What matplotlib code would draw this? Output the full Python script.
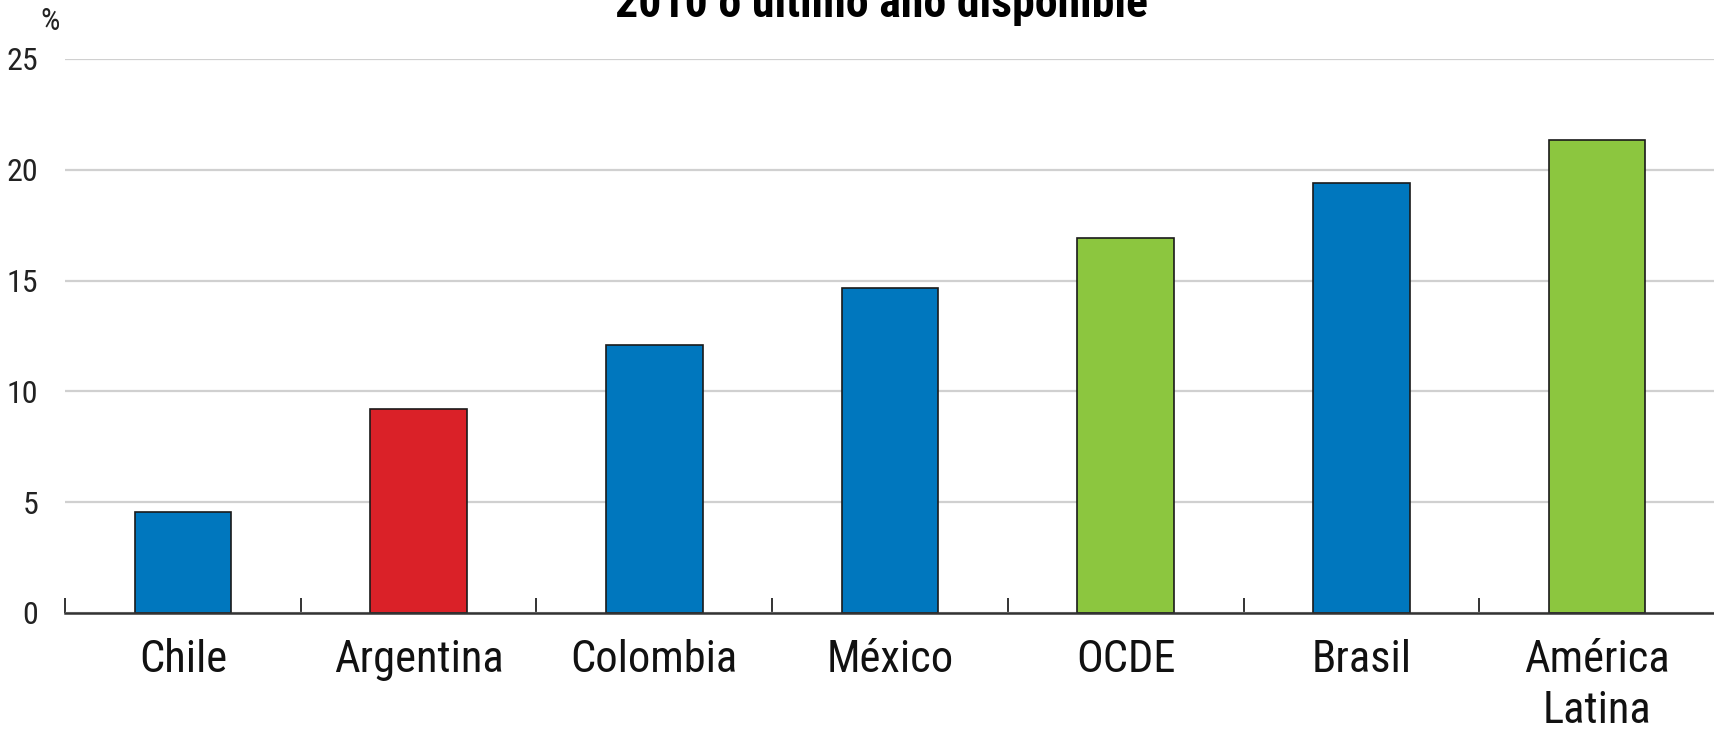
import matplotlib
matplotlib.use('Agg')
import matplotlib.pyplot as plt
import numpy as np

# condensed face to stand in for Arial Narrow
plt.rcParams['font.family'] = ['Roboto Condensed', 'DejaVu Sans']

# data
categories = ['Chile', 'Argentina', 'Colombia', 'México', 'OCDE', 'Brasil', 'América\nLatina']
values = [4.55, 9.2, 12.1, 14.65, 16.9, 19.4, 21.35]
bar_colors = ['#0077BE', '#DA2128', '#0077BE', '#0077BE', '#8CC63F', '#0077BE', '#8CC63F']
yticks = [0, 5, 10, 15, 20, 25]

fig = plt.figure(figsize=(17.15, 7.3), dpi=100)
ax = fig.add_axes([65 / 1715, 1 - 613 / 730, 1 - 65 / 1715, (613 - 59) / 730])

x = np.arange(len(categories))
ax.bar(x, values, width=0.41, color=bar_colors, edgecolor='#1a1a1a', linewidth=1.2, zorder=3)

ax.set_xlim(-0.5, len(categories) - 0.5)
ax.set_ylim(0, 25)
ax.set_yticks(yticks)
ax.set_yticklabels([str(t) for t in yticks], fontsize=23, color='#222222')
ax.yaxis.grid(True, color='#d0d0d0', linewidth=1.6, zorder=0)
ax.tick_params(axis='y', length=0, pad=19)

ax.set_xticks(x)
ax.set_xticklabels(categories, fontsize=32, color='#111111', linespacing=1.25)
ax.tick_params(axis='x', which='major', length=0, pad=19)
ax.set_xticks(np.arange(-0.5, len(categories) - 0.5, 1.0), minor=True)
ax.tick_params(axis='x', which='minor', direction='in', length=11, width=1.4, color='#333333')

for side in ['top', 'right', 'left']:
    ax.spines[side].set_visible(False)
ax.spines['bottom'].set_color('#333333')
ax.spines['bottom'].set_linewidth(1.8)
ax.spines['bottom'].set_zorder(4)

fig.text(50 / 1715, 1 - 21 / 730, '%', fontsize=22, ha='center', va='center', color='#222222')
fig.text(882 / 1715, 1 - 17 / 730, '2010 o último año disponible', fontsize=33,
         fontweight='bold', ha='center', va='baseline', color='#000000')

fig.savefig('out.png', dpi=100)
